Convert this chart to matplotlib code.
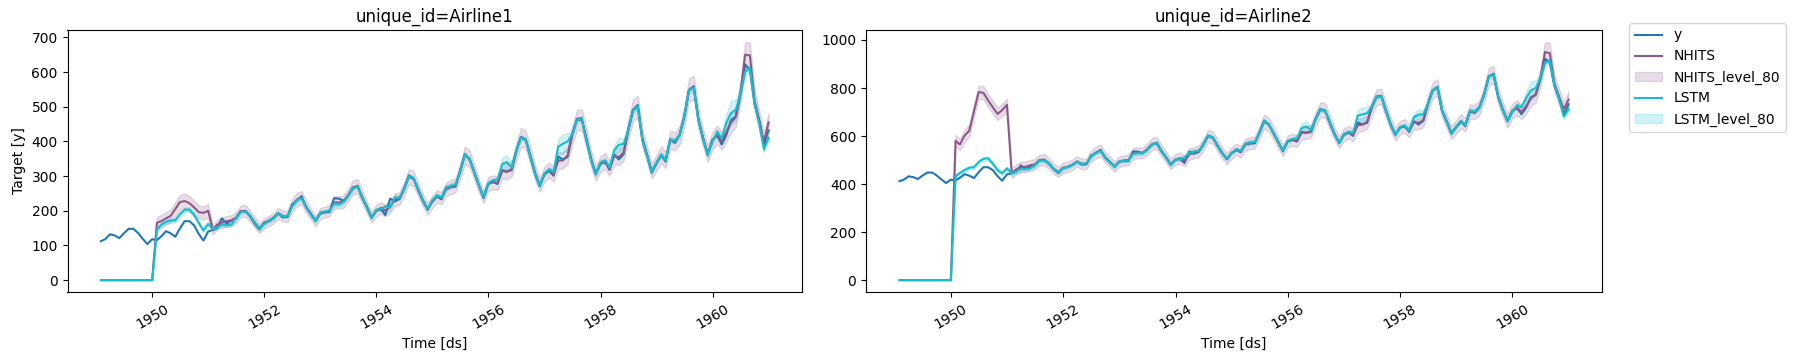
import numpy as np
import pandas as pd
import matplotlib
matplotlib.use("Agg")
import matplotlib.pyplot as plt
import matplotlib.dates as mdates

# ---------------- data ----------------
start_date = "1949-01-31"
n_periods = 144
series_ids = ["Airline1", "Airline2"]
model_names = ["NHITS", "LSTM"]
level = 80

y_airline1 = [
    112, 118, 132, 129, 121, 135, 148, 148, 136, 119, 104, 118,
    115, 126, 141, 135, 125, 149, 170, 170, 158, 133, 114, 140,
    145, 150, 178, 163, 172, 178, 199, 199, 184, 162, 146, 166,
    171, 180, 193, 181, 183, 218, 230, 242, 209, 191, 172, 194,
    196, 196, 236, 235, 229, 243, 264, 272, 237, 211, 180, 201,
    204, 188, 235, 227, 234, 264, 302, 293, 259, 229, 203, 229,
    242, 233, 267, 269, 270, 315, 364, 347, 312, 274, 237, 278,
    284, 277, 317, 313, 318, 374, 413, 405, 355, 306, 271, 306,
    315, 301, 356, 348, 355, 422, 465, 467, 404, 347, 305, 336,
    340, 318, 362, 348, 363, 435, 491, 505, 404, 359, 310, 337,
    360, 342, 406, 396, 420, 472, 548, 559, 463, 407, 362, 405,
    417, 391, 419, 461, 472, 535, 622, 606, 508, 461, 390, 432,
]

y_airline2 = [
    412, 418, 432, 429, 421, 435, 448, 448, 436, 419, 404, 418,
    415, 426, 441, 435, 425, 449, 470, 470, 458, 433, 414, 440,
    445, 450, 478, 463, 472, 478, 499, 499, 484, 462, 446, 466,
    471, 480, 493, 481, 483, 518, 530, 542, 509, 491, 472, 494,
    496, 496, 536, 535, 529, 543, 564, 572, 537, 511, 480, 501,
    504, 488, 535, 527, 534, 564, 602, 593, 559, 529, 503, 529,
    542, 533, 567, 569, 570, 615, 664, 647, 612, 574, 537, 578,
    584, 577, 617, 613, 618, 674, 713, 705, 655, 606, 571, 606,
    615, 601, 656, 648, 655, 722, 765, 767, 704, 647, 605, 636,
    640, 618, 662, 648, 663, 735, 791, 805, 704, 659, 610, 637,
    660, 642, 706, 696, 720, 772, 848, 859, 763, 707, 662, 705,
    717, 691, 719, 761, 772, 835, 922, 906, 808, 761, 690, 732,
]

nhits_airline1 = [
    0, 0, 0, 0, 0, 0, 0, 0, 0, 0, 0, 0,
    165, 170, 178, 185, 205, 225, 228, 222, 210, 196, 194, 200,
    145, 160, 166, 170, 172, 180, 198, 200, 185, 166, 150, 164,
    170, 178, 192, 185, 183, 215, 232, 238, 212, 190, 170, 192,
    196, 200, 224, 224, 226, 245, 268, 270, 240, 210, 182, 200,
    208, 200, 212, 232, 235, 262, 298, 292, 262, 230, 206, 226,
    242, 236, 262, 268, 274, 312, 360, 350, 312, 272, 240, 278,
    282, 280, 315, 312, 320, 370, 412, 404, 360, 310, 275, 305,
    318, 304, 345, 345, 360, 418, 462, 462, 410, 350, 308, 335,
    344, 322, 358, 355, 368, 432, 490, 500, 410, 362, 315, 338,
    362, 346, 405, 400, 418, 470, 548, 556, 466, 410, 365, 402,
    420, 400, 428, 455, 470, 540, 650, 648, 520, 460, 398, 455,
]
nhits_halfwidth_airline1 = [
    0, 0, 0, 0, 0, 0, 0, 0, 0, 0, 0, 0,
    17, 18, 18, 19, 20, 21, 21, 21, 20, 19, 19, 19,
    14, 14, 15, 15, 15, 16, 17, 17, 16, 15, 14, 15,
    15, 15, 16, 16, 16, 18, 19, 19, 18, 16, 15, 16,
    16, 16, 18, 18, 18, 19, 20, 21, 19, 17, 16, 17,
    17, 16, 18, 18, 18, 20, 22, 22, 20, 18, 17, 18,
    18, 18, 20, 20, 20, 22, 25, 24, 22, 20, 18, 20,
    20, 20, 22, 22, 22, 25, 27, 27, 24, 22, 20, 22,
    22, 21, 24, 24, 24, 27, 30, 30, 27, 24, 22, 23,
    23, 22, 24, 24, 24, 28, 31, 32, 27, 24, 22, 23,
    24, 23, 26, 26, 27, 30, 33, 34, 29, 26, 24, 26,
    26, 25, 27, 29, 29, 32, 37, 37, 31, 29, 26, 28,
]
lstm_airline1 = [
    0, 0, 0, 0, 0, 0, 0, 0, 0, 0, 0, 0,
    145, 160, 168, 172, 172, 190, 203, 203, 188, 165, 143, 162,
    147, 152, 160, 158, 160, 178, 196, 198, 186, 164, 148, 162,
    172, 178, 193, 184, 185, 212, 230, 236, 210, 188, 170, 195,
    198, 200, 220, 218, 225, 242, 265, 270, 238, 208, 180, 203,
    205, 212, 210, 238, 238, 262, 300, 294, 260, 228, 206, 230,
    245, 238, 266, 272, 275, 312, 362, 348, 310, 272, 240, 280,
    288, 290, 335, 340, 325, 372, 412, 405, 356, 305, 272, 308,
    320, 312, 385, 393, 400, 420, 462, 466, 402, 345, 306, 340,
    345, 325, 375, 390, 393, 432, 488, 502, 405, 358, 312, 340,
    362, 345, 405, 402, 418, 472, 548, 555, 462, 405, 360, 400,
    428, 408, 455, 482, 490, 535, 600, 612, 510, 450, 378, 410,
]
lstm_halfwidth_airline1 = [
    0, 0, 0, 0, 0, 0, 0, 0, 0, 0, 0, 0,
    6, 6, 6, 6, 6, 6, 6, 6, 6, 6, 6, 6,
    5, 5, 6, 6, 6, 5, 5, 5, 5, 5, 5, 5,
    5, 5, 5, 5, 5, 5, 5, 5, 5, 5, 5, 5,
    5, 5, 6, 6, 5, 5, 5, 5, 5, 5, 5, 5,
    5, 6, 8, 8, 6, 5, 5, 5, 5, 5, 5, 5,
    5, 6, 8, 8, 6, 5, 5, 5, 5, 5, 5, 5,
    5, 8, 18, 20, 14, 6, 6, 6, 5, 5, 5, 5,
    6, 8, 22, 28, 24, 8, 6, 6, 6, 6, 6, 6,
    6, 8, 15, 20, 16, 8, 6, 6, 6, 6, 6, 6,
    6, 6, 8, 8, 8, 7, 7, 7, 6, 6, 6, 6,
    7, 8, 25, 35, 30, 10, 10, 10, 8, 8, 8, 8,
]

nhits_airline2 = [
    0, 0, 0, 0, 0, 0, 0, 0, 0, 0, 0, 0,
    580, 565, 602, 622, 705, 783, 780, 748, 720, 692, 708, 730,
    446, 460, 470, 472, 478, 482, 500, 502, 486, 464, 450, 468,
    472, 480, 494, 484, 485, 516, 530, 540, 512, 492, 474, 494,
    498, 500, 528, 530, 530, 545, 566, 572, 540, 512, 484, 502,
    508, 496, 525, 530, 536, 564, 600, 594, 562, 530, 506, 528,
    544, 535, 565, 570, 574, 612, 660, 648, 612, 574, 540, 578,
    584, 580, 615, 614, 620, 670, 710, 705, 658, 610, 574, 606,
    616, 604, 645, 648, 658, 718, 762, 765, 708, 650, 608, 636,
    642, 622, 658, 655, 665, 732, 790, 802, 708, 662, 614, 638,
    662, 646, 702, 700, 718, 770, 848, 856, 766, 710, 664, 704,
    718, 700, 725, 758, 772, 840, 950, 945, 820, 762, 712, 752,
]
nhits_halfwidth_airline2 = [
    0, 0, 0, 0, 0, 0, 0, 0, 0, 0, 0, 0,
    24, 24, 25, 25, 26, 27, 27, 27, 26, 26, 26, 26,
    21, 21, 22, 22, 22, 22, 23, 23, 22, 22, 21, 22,
    22, 22, 22, 22, 22, 23, 24, 24, 23, 22, 22, 22,
    22, 22, 23, 23, 23, 24, 25, 25, 24, 23, 22, 23,
    23, 22, 23, 23, 24, 25, 26, 26, 25, 24, 23, 24,
    24, 24, 25, 25, 25, 27, 29, 28, 27, 25, 24, 25,
    25, 25, 27, 27, 27, 29, 31, 31, 29, 27, 25, 27,
    27, 26, 28, 28, 28, 31, 33, 33, 31, 28, 27, 28,
    28, 27, 29, 28, 29, 32, 34, 35, 31, 29, 27, 28,
    29, 28, 30, 30, 31, 33, 36, 37, 33, 31, 29, 31,
    31, 30, 31, 33, 33, 36, 42, 42, 35, 33, 31, 33,
]
lstm_airline2 = [
    0, 0, 0, 0, 0, 0, 0, 0, 0, 0, 0, 0,
    432, 446, 458, 468, 470, 492, 505, 507, 485, 458, 445, 465,
    445, 452, 462, 462, 465, 478, 497, 499, 486, 463, 448, 465,
    472, 480, 493, 484, 486, 514, 530, 538, 510, 490, 472, 495,
    497, 498, 526, 528, 528, 543, 565, 572, 538, 510, 481, 502,
    505, 510, 530, 535, 538, 564, 602, 594, 560, 528, 505, 530,
    545, 538, 568, 574, 575, 614, 664, 648, 612, 574, 540, 580,
    588, 590, 632, 640, 625, 672, 712, 705, 656, 606, 572, 608,
    618, 612, 685, 690, 695, 722, 764, 766, 704, 646, 606, 638,
    644, 624, 678, 690, 690, 734, 790, 804, 706, 658, 612, 640,
    662, 645, 705, 702, 720, 772, 848, 856, 764, 706, 662, 702,
    728, 720, 760, 790, 800, 838, 905, 912, 812, 752, 682, 712,
]
lstm_halfwidth_airline2 = [
    0, 0, 0, 0, 0, 0, 0, 0, 0, 0, 0, 0,
    8, 8, 8, 8, 8, 8, 8, 8, 8, 8, 8, 8,
    7, 7, 8, 8, 8, 7, 7, 7, 7, 7, 7, 7,
    7, 7, 7, 7, 7, 7, 7, 7, 7, 7, 7, 7,
    7, 7, 8, 8, 7, 7, 7, 7, 7, 7, 7, 7,
    7, 8, 10, 10, 8, 7, 7, 7, 7, 7, 7, 7,
    7, 8, 10, 10, 8, 7, 7, 7, 7, 7, 7, 7,
    7, 10, 20, 22, 16, 8, 8, 8, 7, 7, 7, 7,
    8, 10, 25, 30, 26, 10, 8, 8, 8, 8, 8, 8,
    8, 10, 18, 22, 18, 10, 8, 8, 8, 8, 8, 8,
    8, 8, 10, 10, 10, 9, 9, 9, 8, 8, 8, 8,
    9, 10, 28, 38, 32, 12, 12, 12, 10, 10, 10, 10,
]

# ---------------- styling ----------------
color_y = "#1f77b4"
color_nhits = "#8b5a8a"
color_lstm = "#17becf"

plt.rcParams["font.family"] = ["DejaVu Sans"]

ds = pd.date_range(start_date, periods=n_periods, freq="ME")

panels = [
    (y_airline1, nhits_airline1, nhits_halfwidth_airline1, lstm_airline1, lstm_halfwidth_airline1),
    (y_airline2, nhits_airline2, nhits_halfwidth_airline2, lstm_airline2, lstm_halfwidth_airline2),
]

W, H = 1795, 361
fig = plt.figure(figsize=(W / 100, H / 100), dpi=100)
ax_left = fig.add_axes([67.5 / W, 69 / H, 734.5 / W, 262 / H])
ax_right = fig.add_axes([866 / W, 69 / H, 736 / W, 262 / H])
axes = [ax_left, ax_right]

for i, (ax, uid, data) in enumerate(zip(axes, series_ids, panels)):
    yv, nh, nhw, ls, lsw = [np.asarray(a, dtype=float) for a in data]
    ax.plot(ds, yv, color=color_y, label="y")
    ax.plot(ds, nh, color=color_nhits, label="NHITS")
    ax.fill_between(ds, nh - nhw, nh + nhw, color=color_nhits, alpha=0.2,
                    label=f"NHITS_level_{level}")
    ax.plot(ds, ls, color=color_lstm, label="LSTM")
    ax.fill_between(ds, ls - lsw, ls + lsw, color=color_lstm, alpha=0.2,
                    label=f"LSTM_level_{level}")
    ax.set_title(f"unique_id={uid}")
    ax.set_xlabel("Time [ds]")
    if i == 0:
        ax.set_ylabel("Target [y]")
    ax.xaxis.set_major_locator(mdates.YearLocator(2))
    ax.xaxis.set_major_formatter(mdates.DateFormatter("%Y"))
    ax.tick_params(axis="x", labelrotation=30)

handles, labels = ax_left.get_legend_handles_labels()
fig.legend(handles, labels, loc="upper left",
           bbox_to_anchor=((1629 - 7) / W, 1 - (23 - 7) / H))

fig.savefig("out.png", dpi=100)
